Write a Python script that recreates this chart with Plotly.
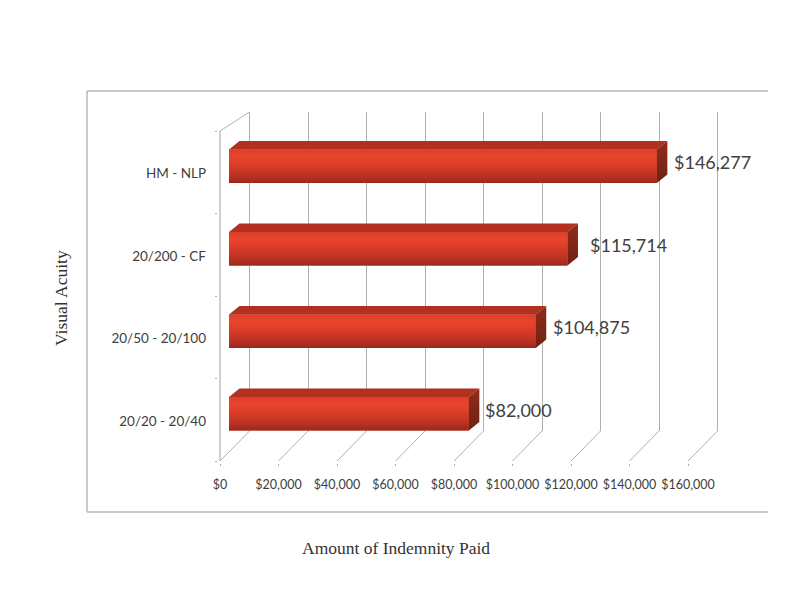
import numpy as np
import plotly.graph_objects as go

# ---- data ----
categories = ["20/20 - 20/40", "20/50 - 20/100", "20/200 - CF", "HM - NLP"]
values = [82000, 104875, 115714, 146277]
value_labels = ["$82,000", "$104,875", "$115,714", "$146,277"]
x_ticks = [0, 20000, 40000, 60000, 80000, 100000, 120000, 140000, 160000]
x_tick_labels = ["$0", "$20,000", "$40,000", "$60,000", "$80,000", "$100,000", "$120,000", "$140,000", "$160,000"]
x_title = "Amount of Indemnity Paid"
y_title = "Visual Acuity"

# ---- style / layout (pixels as seen on the 800x600 page) ----
BODY = 8                 # page margin around the plot div
W, H = 800 - 2 * BODY, 600 - 2 * BODY
X0, X1 = 220, 688        # front plane horizontal extent
Y_BOT, Y_TOP = 461, 131  # front plane vertical extent
BACK_DX, BACK_DY = 29.5, 30
BACK_TOP = 112
BAR_DX, BAR_DY = 9, 6
BAR_PX = 33.5
SIDE_DX_PX, SIDE_DY_PX = 10.5, 8.5
PAD = 2
GRID = "#b0b0b0"
TXT = "#404040"
label_gap_px = [6, 7, 12, 7]
LABEL_DROP_PX = 1.5

XMAX = x_ticks[-1]
N = len(categories)
px_per_x = (X1 - X0) / XMAX
px_per_y = (Y_BOT - Y_TOP) / N
pos = np.arange(N) + 0.5
dx = SIDE_DX_PX / px_per_x
dy = SIDE_DY_PX / px_per_y
half = BAR_PX / px_per_y / 2
back_dx = BACK_DX / px_per_x
back_dy = BACK_DY / px_per_y
wall_dy = (Y_TOP - BACK_TOP) / px_per_y
pad_x = PAD / px_per_x
pad_y = PAD / px_per_y


def xp(px):
    return (px - BODY) / W


def yp(px):
    return (H + BODY - px) / H


fig = go.Figure()

# back wall: grid lines (first subplot, so it lies under everything else)
fig.add_trace(go.Scatter(x=[0], y=[0], mode="markers", marker=dict(size=1, opacity=0),
                         xaxis="x", yaxis="y", hoverinfo="skip"))

# front plane: left wall edge and floor edges
for v in x_ticks:
    fig.add_trace(go.Scatter(x=[v, v + back_dx], y=[0, back_dy], mode="lines",
                             line=dict(color=GRID, width=1), xaxis="x2", yaxis="y2",
                             hoverinfo="skip"))
fig.add_trace(go.Scatter(x=[0, back_dx], y=[N, N + wall_dy], mode="lines",
                         line=dict(color=GRID, width=1), xaxis="x2", yaxis="y2",
                         hoverinfo="skip"))

# bars on their own plane
fig.add_trace(go.Bar(x=values, y=pos, orientation="h", width=2 * half,
                     marker=dict(color="#d63d29", line=dict(width=0)),
                     xaxis="x3", yaxis="y3", hoverinfo="skip"))

front_scale = [[0, "#98291a"], [0.22, "#bb3222"], [0.6, "#e03f2a"], [0.8, "#ea452e"], [1, "#d93f2a"]]
side_scale = [[0, "#6f2214"], [1, "#8f2c1a"]]

for v, p in zip(values, pos):
    t, b = p + half, p - half
    fig.add_trace(go.Scatter(x=[0, v, v, 0, 0], y=[b, b, t, t, b], mode="lines", fill="toself",
                             line=dict(width=0), xaxis="x3", yaxis="y3", hoverinfo="skip",
                             fillgradient=dict(type="vertical", colorscale=front_scale)))
    fig.add_trace(go.Scatter(x=[0, dx, v + dx, v, 0], y=[t, t + dy, t + dy, t, t], mode="lines",
                             fill="toself", fillcolor="#b1301f", line=dict(width=0),
                             xaxis="x3", yaxis="y3", hoverinfo="skip"))
    fig.add_trace(go.Scatter(x=[v, v + dx, v + dx, v, v], y=[b, b + dy, t + dy, t, b], mode="lines",
                             fill="toself", line=dict(width=0), xaxis="x3", yaxis="y3",
                             hoverinfo="skip",
                             fillgradient=dict(type="vertical", colorscale=side_scale)))

annotations = []
for v, p, s, gap in zip(values, pos, value_labels, label_gap_px):
    annotations.append(dict(x=v + dx, y=p, xref="x3", yref="y3", text=s, showarrow=False,
                            xanchor="left", yanchor="middle", xshift=gap - 2, yshift=4,
                            font=dict(family="Lato", size=18, color=TXT)))
annotations.append(dict(x=xp(396), y=yp(548), xref="paper", yref="paper", text=x_title,
                        showarrow=False, xanchor="center", yanchor="middle",
                        font=dict(family="Liberation Serif", size=17.5, color="#333333")))
annotations.append(dict(x=xp(61), y=yp(298), xref="paper", yref="paper", text=y_title,
                        showarrow=False, textangle=-90, xanchor="center", yanchor="middle",
                        font=dict(family="Liberation Serif", size=17.5, color="#333333")))

frame = dict(type="line", xref="paper", yref="paper", line=dict(color="#b8b8b8", width=1.5), layer="below")
fx0, fx1, fy0, fy1 = xp(87), xp(768), yp(512), yp(91)
shapes = [
    dict(frame, x0=fx0, x1=fx0, y0=fy0, y1=fy1),
    dict(frame, x0=fx0, x1=fx1, y0=fy1, y1=fy1),
    dict(frame, x0=fx0, x1=fx1, y0=fy0, y1=fy0),
    # front left axis line
    dict(type="line", xref="x2", yref="y2", x0=0, x1=0, y0=0, y1=N, layer="above",
         line=dict(color=GRID, width=1.2)),
]

fig.update_layout(
    width=W, height=H, margin=dict(l=0, r=0, t=0, b=0, pad=0, autoexpand=False),
    paper_bgcolor="white", plot_bgcolor="rgba(0,0,0,0)",
    showlegend=False, annotations=annotations, shapes=shapes,
    # back plane, padded so the first and last grid lines are kept
    xaxis=dict(domain=[xp(X0 + BACK_DX - PAD), xp(X1 + BACK_DX + PAD)],
               range=[-pad_x, XMAX + pad_x], anchor="y",
               tickmode="array", tickvals=x_ticks, showticklabels=False, ticks="",
               showgrid=True, gridcolor=GRID, gridwidth=1.2, zeroline=False, showline=False),
    yaxis=dict(domain=[yp(Y_BOT - BACK_DY), yp(BACK_TOP)], range=[0, 1], anchor="x",
               showticklabels=False, ticks="", showgrid=False, zeroline=False, showline=False),
    # front plane, extended so the wall and floor edges fit inside it
    xaxis2=dict(domain=[xp(X0 - PAD), xp(X1 + BACK_DX + PAD)],
                range=[-pad_x, XMAX + back_dx + pad_x], anchor="y2",
                tickmode="array", tickvals=x_ticks, ticktext=x_tick_labels, ticks="outside",
                ticklen=2, tickcolor=GRID, showgrid=False, zeroline=False, showline=False,
                ticklabelstandoff=8, tickangle=0,
                tickfont=dict(family="Lato", size=12.5, color=TXT)),
    yaxis2=dict(domain=[yp(Y_BOT + PAD), yp(BACK_TOP - PAD)],
                range=[-pad_y, N + wall_dy + pad_y], anchor="x2",
                tickmode="array", tickvals=(pos - LABEL_DROP_PX / px_per_y).tolist(),
                ticktext=categories, ticks="",
                showgrid=False, zeroline=False, showline=False, ticklabelstandoff=11,
                minor=dict(tickmode="array", tickvals=list(range(N + 1)), ticks="outside",
                           ticklen=2, tickcolor=GRID),
                tickfont=dict(family="Lato", size=13.5, color=TXT)),
    # bar plane
    xaxis3=dict(domain=[xp(X0 + BAR_DX), xp(X1 + BAR_DX + 20)],
                range=[0, XMAX + 20 / px_per_x], anchor="y3", visible=False),
    yaxis3=dict(domain=[yp(Y_BOT - BAR_DY), yp(Y_TOP - BAR_DY - 20)],
                range=[0, N + 20 / px_per_y], anchor="x3", visible=False),
)

fig.write_html("out.html", config=dict(displayModeBar=False))
